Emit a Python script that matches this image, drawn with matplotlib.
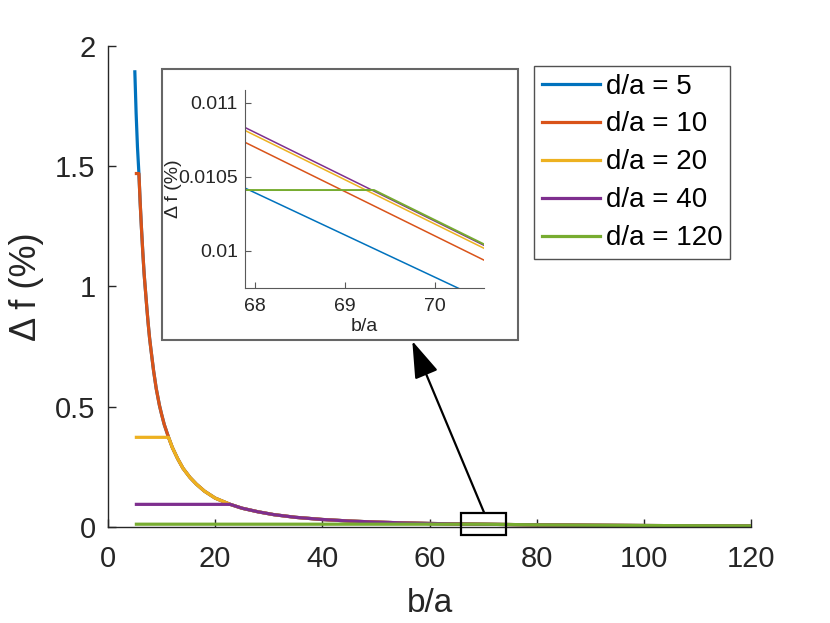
import matplotlib
matplotlib.use("Agg")
import matplotlib.pyplot as plt
from matplotlib.patches import Rectangle
from matplotlib.lines import Line2D

plt.rcParams['font.family'] = ['Liberation Sans', 'DejaVu Sans']

# ---------------- data ----------------
labels = ['d/a = 5', 'd/a = 10', 'd/a = 20', 'd/a = 40', 'd/a = 120']
colors = ['#0072BD', '#D95319', '#EDB120', '#7E2F8E', '#77AC30']

# common decaying branch  (b/a , Δf %)
tail_x = [5.0, 5.25, 5.5, 5.77, 6.0, 6.25, 6.5, 6.75, 7.0, 7.25, 7.5, 7.76,
          8.0, 8.5, 9.0, 9.6, 10.0, 10.5, 11.3, 12.0, 13.0, 14.0, 15.3, 16.5,
          18.0, 20.0, 22.8, 25.0, 28.0, 31.0, 35.0, 40.0, 45.0, 50.0, 55.0,
          60.0, 69.3, 80.0, 90.0, 100.0, 110.0, 120.0]
tail_y = [1.90, 1.72, 1.58, 1.47, 1.35, 1.24, 1.14, 1.05, 0.98, 0.91, 0.845,
          0.785, 0.74, 0.65, 0.575, 0.505, 0.468, 0.425, 0.372, 0.33, 0.283,
          0.243, 0.205, 0.177, 0.148, 0.119, 0.093, 0.077, 0.062, 0.050,
          0.039, 0.030, 0.0237, 0.0192, 0.0159, 0.0134, 0.0104, 0.0077,
          0.0060, 0.0049, 0.0040, 0.0034]

# each curve starts at b/a = 5 with a flat part up to its knee
start_x = 5.0
knee_x = [5.0, 5.77, 11.3, 22.8, 69.3]
plateau = [1.90, 1.47, 0.372, 0.093, 0.0104]

# inset (zoom around b/a = 69)
inset_x = [67.8, 70.6]
inset_y = {
    'd/a = 5':  [0.01045, 0.00965],
    'd/a = 10': [0.01076, 0.00992],
    'd/a = 20': [0.01084, 0.01000],
    'd/a = 40': [0.01086, 0.01002],
}
inset_green_x = [67.8, 69.32, 70.6]
inset_green_y = [0.010411, 0.010411, 0.010027]

# ---------------- figure ----------------
W, H = 830, 623
fig = plt.figure(figsize=(W / 100, H / 100), dpi=100)
fig.patch.set_facecolor('white')

ax = fig.add_axes([108 / W, (H - 526.7) / H, 643 / W, 480.5 / H])

dark = '0.15'
for lab, col, kx, p in zip(labels, colors, knee_x, plateau):
    xs = [start_x, kx] + [x for x in tail_x if x > kx]
    ys = [p, p] + [y for x, y in zip(tail_x, tail_y) if x > kx]
    ax.plot(xs, ys, color=col, lw=2.3, label=lab, solid_capstyle='butt',
            solid_joinstyle='round')

ax.set_xlim(0, 120)
ax.set_ylim(0, 2)
ax.set_xticks([0, 20, 40, 60, 80, 100, 120])
ax.set_yticks([0, 0.5, 1, 1.5, 2])
ax.set_yticklabels(['0', '0.5', '1', '1.5', '2'])
for s in ['top', 'right']:
    ax.spines[s].set_visible(False)
for s in ['left', 'bottom']:
    ax.spines[s].set_color(dark)
    ax.spines[s].set_linewidth(1.0)
ax.tick_params(direction='in', length=6, width=1, colors=dark,
               labelsize=21, labelcolor=dark)
ax.tick_params(axis='x', pad=13)
ax.tick_params(axis='y', pad=9)
ax.set_xlabel('b/a', fontsize=24, color=dark)
ax.set_ylabel('Δ f (%)', fontsize=26, color=dark)
ax.xaxis.set_label_coords(0.5, -0.128)
ax.yaxis.set_label_coords(-0.099, 0.5)

# zoom rectangle in main axes
ax.add_patch(Rectangle((65.8, -0.036), 8.5, 0.094, fill=False, ec='black',
                       lw=1.6, clip_on=False, zorder=6))

# arrow from rectangle to inset
ax.annotate('', xy=(412.3 / W, 1 - 341 / H), xycoords='figure fraction',
            xytext=(70.2, 0.058), textcoords='data',
            arrowprops=dict(arrowstyle='-|>,head_length=1.15,head_width=0.38',
                            mutation_scale=20, lw=1.6, color='black',
                            shrinkA=0, shrinkB=0),
            annotation_clip=False)

# legend
handles = [Line2D([], [], color=c, lw=2.3) for c in colors]
leg = ax.legend(handles, labels, loc='upper left',
                bbox_to_anchor=(534 / W, 1 - 66 / H),
                bbox_transform=fig.transFigure, fontsize=20,
                frameon=True, fancybox=False, edgecolor=dark,
                handlelength=2.12, handletextpad=0.2, labelspacing=0.43,
                borderpad=0.27, borderaxespad=0)
leg.get_frame().set_linewidth(1.0)
for t in leg.get_texts():
    t.set_color('black')

# inset frame
fig.add_artist(Rectangle((162 / W, 1 - 340 / H), 356 / W, 271 / H,
                         transform=fig.transFigure, facecolor='white',
                         edgecolor='0.4', lw=1.5, zorder=1))

# inset axes
axi = fig.add_axes([245 / W, (H - 288) / H, 239 / W, 198 / H], zorder=2)
for lab, col in zip(labels[:4], colors[:4]):
    axi.plot(inset_x, inset_y[lab], color=col, lw=1.1)
axi.plot(inset_green_x, inset_green_y, color=colors[4], lw=1.4)
axi.set_xlim(67.89, 70.54)
axi.set_ylim(0.00975, 0.011086)
axi.set_xticks([68, 69, 70])
axi.set_yticks([0.01, 0.0105, 0.011])
axi.set_yticklabels(['0.01', '0.0105', '0.011'])
for s in ['top', 'right']:
    axi.spines[s].set_visible(False)
for s in ['left', 'bottom']:
    axi.spines[s].set_color('0.35')
    axi.spines[s].set_linewidth(0.8)
axi.tick_params(direction='in', length=4, width=0.8, colors='0.35',
                labelsize=14, labelcolor=dark)
axi.tick_params(axis='x', pad=7)
axi.tick_params(axis='y', pad=5)
axi.set_xlabel('b/a', fontsize=14, color=dark)
axi.set_ylabel('Δ f (%)', fontsize=14, color=dark)
axi.xaxis.set_label_coords(0.5, -0.15)
axi.yaxis.set_label_coords(-0.262, 0.5)

fig.savefig('out.png', dpi=100)
